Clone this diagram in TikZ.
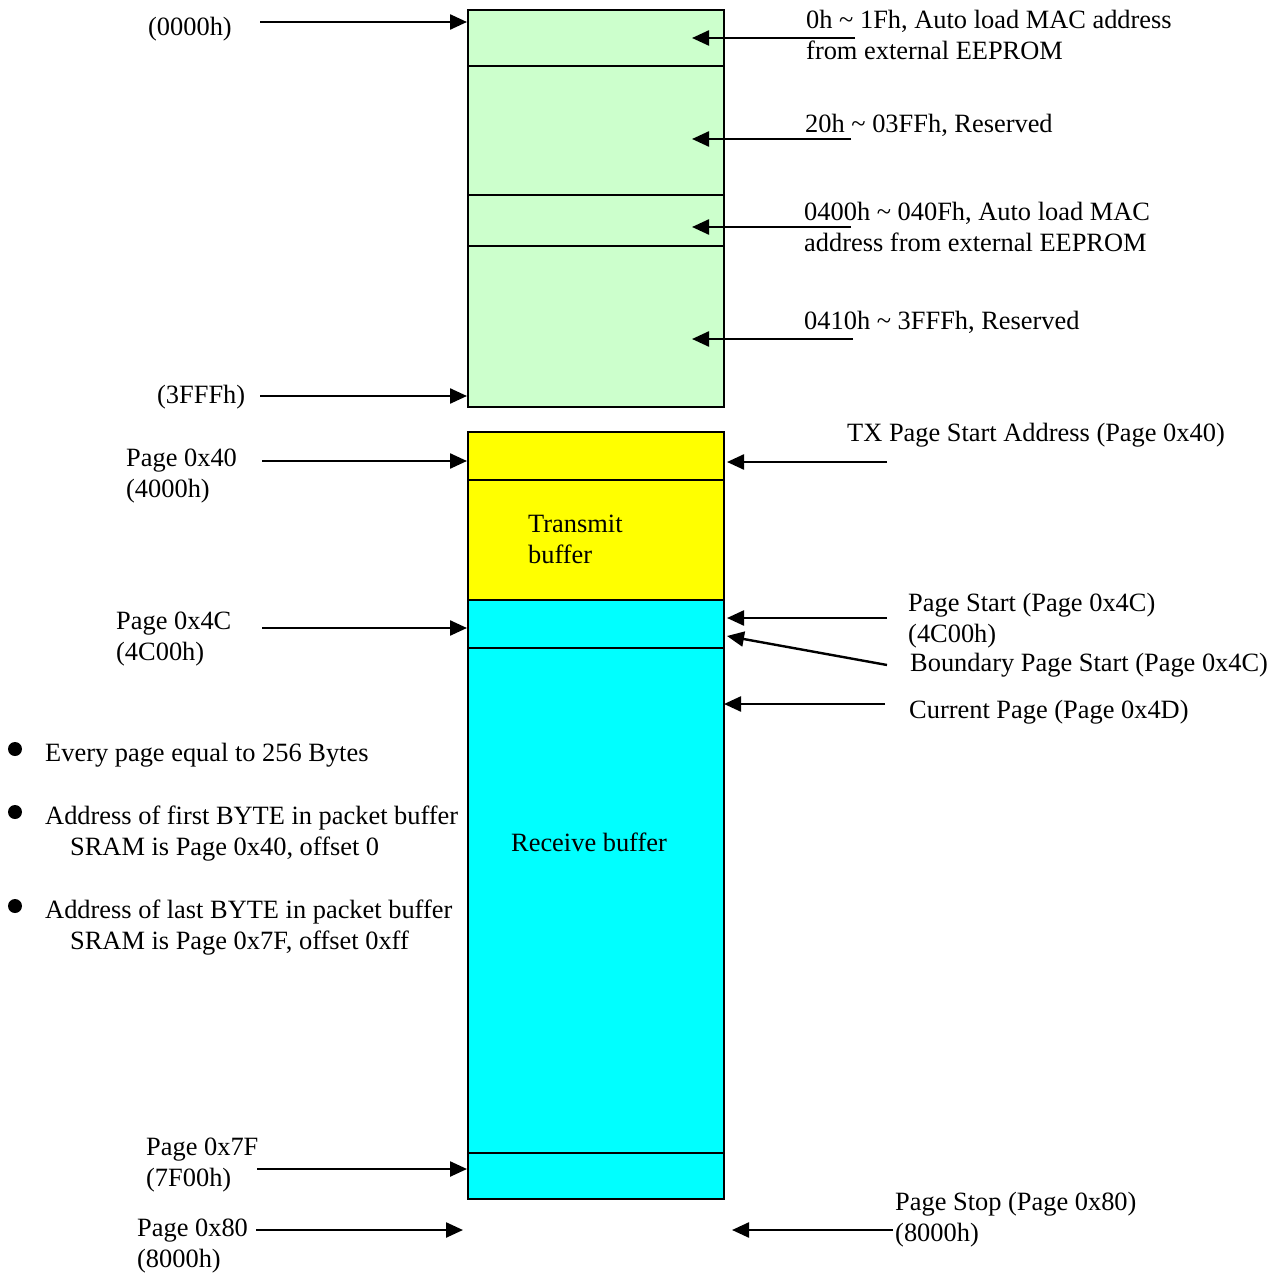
\documentclass[tikz,border=0pt]{standalone}
\usepackage{fontspec}
\setmainfont{Liberation Serif}
\usetikzlibrary{arrows.meta, calc}

\definecolor{romgreen}{HTML}{CCFFCC}
\definecolor{txyellow}{HTML}{FFFF00}
\definecolor{rxcyan}{HTML}{00FFFF}

\tikzset{
  seg/.style={draw, line width=1.6pt, inner sep=0, minimum width=256pt, anchor=north west},
  ptr/.style={line width=2.4pt, -{Triangle[length=17pt, width=15pt]}},
  lbl/.style={inner sep=0, anchor=base west, align=left, font=\fontsize{26.4}{31}\selectfont}
}

\begin{document}
\begin{tikzpicture}[x=1pt, y=-1pt]
    \useasboundingbox (0,0) rectangle (1287,1273);

    % Draw the EEPROM part of the memory map
    \node[seg, fill=romgreen, minimum height=56pt]  (g1) at (467,9)   {};
    \node[seg, fill=romgreen, minimum height=129pt] (g2) at (467,65)  {};
    \node[seg, fill=romgreen, minimum height=51pt]  (g3) at (467,194) {};
    \node[seg, fill=romgreen, minimum height=161pt] (g4) at (467,245) {};

    % Draw the packet buffer SRAM
    \node[seg, fill=txyellow, minimum height=48pt]  (y1) at (467,431)  {};
    \node[seg, fill=txyellow, minimum height=120pt] (y2) at (467,479)  {};
    \node[seg, fill=rxcyan, minimum height=48pt]    (c1) at (467,599)  {};
    \node[seg, fill=rxcyan, minimum height=505pt]   (c2) at (467,647)  {};
    \node[seg, fill=rxcyan, minimum height=46pt]    (c3) at (467,1152) {};

    % base of a two-line label is its second line
    \node[lbl] (txbuf) at (528,563) {Transmit\\buffer};
    \node[lbl, anchor=base] (rxbuf) at (589,851) {Receive buffer};

    % Addresses on the left
    \node[lbl] (a0)   at (148,36)   {(0000h)};
    \node[lbl] (a3f)  at (157,403)  {(3FFFh)};
    \node[lbl] (p40)  at (126,497)  {Page 0x40\\(4000h)};
    \node[lbl] (p4c)  at (116,660)  {Page 0x4C\\(4C00h)};
    \node[lbl] (p7f)  at (146,1186) {Page 0x7F\\(7F00h)};
    \node[lbl] (p80)  at (137,1267) {Page 0x80\\(8000h)};

    \coordinate (la0)  at (260,22);
    \coordinate (la3f) at (260,396);
    \coordinate (lp40) at (262,461);
    \coordinate (lp4c) at (262,628);
    \coordinate (lp7f) at (257,1169);
    \coordinate (lp80) at (256,1230);
    \coordinate (lend) at (463,1230);

    \draw[ptr] (la0) -- (la0 -| g1.west);
    \draw[ptr] (la3f) -- (la3f -| g4.west);
    \draw[ptr] (lp40) -- (lp40 -| y1.west);
    \draw[ptr] (lp4c) -- (lp4c -| c1.west);
    \draw[ptr] (lp7f) -- (lp7f -| c3.west);
    \draw[ptr] (lp80) -- (lend);

    % Descriptions on the right
    \node[lbl] (r0)   at (806,60)   {0h \textasciitilde{} 1Fh, Auto load MAC address\\from external EEPROM};
    \node[lbl] (r1)   at (805,133)  {20h \textasciitilde{} 03FFh, Reserved};
    \node[lbl] (r2)   at (804,252)  {0400h \textasciitilde{} 040Fh, Auto load MAC\\address from external EEPROM};
    \node[lbl] (r3)   at (804,329)  {0410h \textasciitilde{} 3FFFh, Reserved};
    \node[lbl] (tx)   at (847,441)  {TX Page Start Address (Page 0x40)};
    \node[lbl] (ps)   at (908,642)  {Page Start (Page 0x4C)\\(4C00h)};
    \node[lbl] (bps)  at (910,671)  {Boundary Page Start (Page 0x4C)};
    \node[lbl] (cur)  at (909,718)  {Current Page (Page 0x4D)};
    \node[lbl] (stop) at (895,1241) {Page Stop (Page 0x80)\\(8000h)};

    \coordinate (in)   at (692,0);
    \coordinate (out)  at (727,0);
    \coordinate (rr0)  at (855,38);
    \coordinate (rr1)  at (851,139);
    \coordinate (rr2)  at (851,227);
    \coordinate (rr3)  at (853,339);
    \coordinate (rtx)  at (887,462);
    \coordinate (rps)  at (887,618);
    \coordinate (rbps) at (887,665);
    \coordinate (rcur) at (885,704);
    \coordinate (rstp) at (893,1230);

    \draw[ptr] (rr0) -- (rr0 -| in);
    \draw[ptr] (rr1) -- (rr1 -| in);
    \draw[ptr] (rr2) -- (rr2 -| in);
    \draw[ptr] (rr3) -- (rr3 -| in);
    \draw[ptr] (rtx) -- (rtx -| out);
    \draw[ptr] (rps) -- (rps -| out);
    \draw[ptr] (rbps) -- ($(out)+(0,636)$);
    \draw[ptr] (rcur) -- ($(rcur -| out)+(-3,0)$);
    \draw[ptr] (rstp) -- ($(rstp -| out)+(5,0)$);

    % Notes with bullets
    \fill (15,749) circle (7pt);
    \fill (15,812) circle (7pt);
    \fill (15,906) circle (7pt);
    \node[lbl] (b1) at (45,761) {Every page equal to 256 Bytes};
    \node[lbl] (b2) at (45,855) {Address of first BYTE in packet buffer\\\hspace*{25pt}SRAM is Page 0x40, offset 0};
    \node[lbl] (b3) at (45,949) {Address of last BYTE in packet buffer\\\hspace*{25pt}SRAM is Page 0x7F, offset 0xff};
\end{tikzpicture}
\end{document}
